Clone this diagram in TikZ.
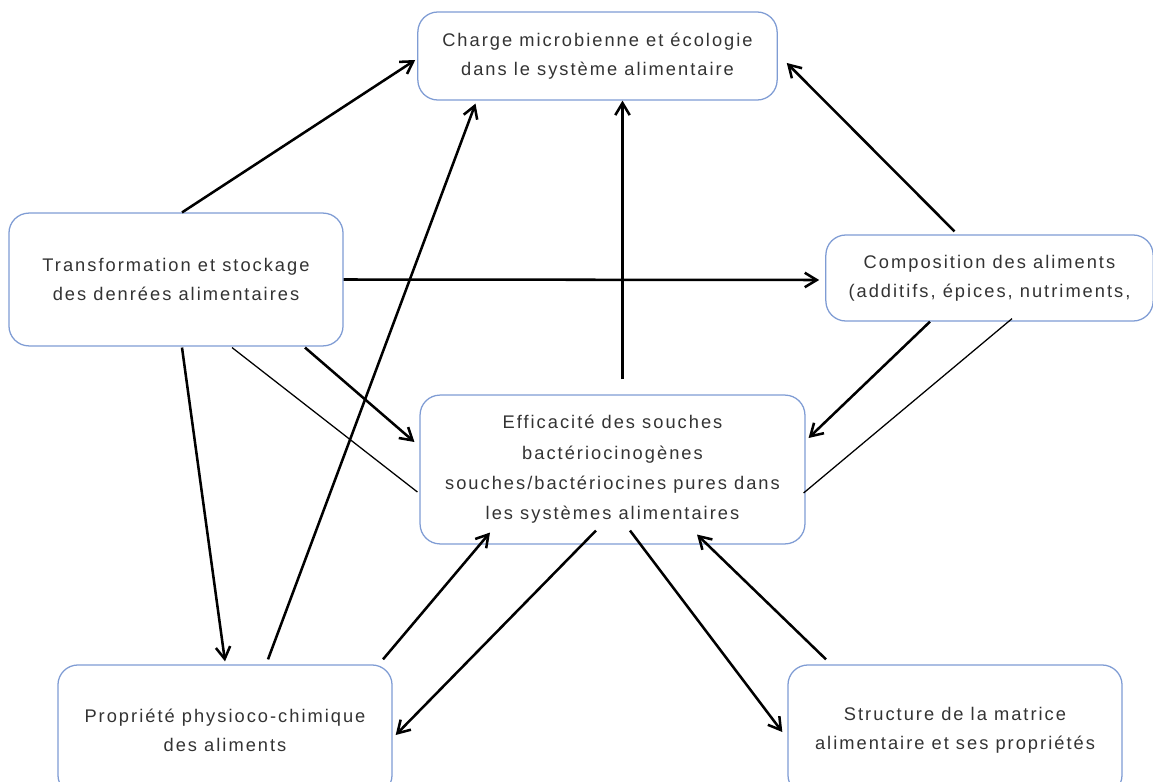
\documentclass[tikz,border=0pt]{standalone}
\usepackage{fontspec}
\setmainfont{Liberation Sans}[LetterSpace=11]
\usepackage{xcolor}
\usepackage{tikz}
\usetikzlibrary{arrows.meta,calc}
\definecolor{boxline}{HTML}{7F9CD4}
\definecolor{boxtext}{HTML}{333333}

\begin{document}
\begin{tikzpicture}[
    x=0.025cm, y=-0.025cm,
    box/.style={rectangle, draw=boxline, line width=0.9pt, rounded corners=0.5cm, fill=white, align=center, text=boxtext, font=\fontsize{13}{20.5}\selectfont, inner sep=0pt},
    arrow/.style={-{Straight Barb[length=3mm,width=3.6mm]}, line width=1.8pt},
    link/.style={line width=0.9pt}
]

\clip (0,0) rectangle (1153,782);

% Boxes
\node[box, minimum width=8.98cm, minimum height=2.2cm] (charge) at (597.5,56) {Charge microbienne et écologie\\dans le système alimentaire};
\node[box, minimum width=8.35cm, minimum height=3.32cm] (transf) at (176,279.5) {Transformation et stockage\\des denrées alimentaires};
\node[box, minimum width=8.18cm, minimum height=2.15cm] (compo) at (989.5,278) {Composition des aliments\\(additifs, épices, nutriments,};
\node[box, minimum width=9.62cm, minimum height=3.72cm, font=\fontsize{13}{21.5}\selectfont] (effic) at (612.5,469.5) {Efficacité des souches\\bactériocinogènes\\souches/bactériocines pures dans\\les systèmes alimentaires};
\node[box, minimum width=8.35cm, minimum height=3.25cm] (propr) at (225,730) {Propriété physioco-chimique\\des aliments};
\node[box, minimum width=8.35cm, minimum height=3.25cm] (struct) at (955,730) {Structure de la matrice\\alimentaire et ses propriétés};

% Arrows to the top box
\draw[arrow] ($(transf.north)+(6,0)$) -- ($(charge.west)+(-2,4)$);
\draw[arrow] ($(propr.north)+(43,-5)$) -- ($(charge.south)+(-122,3)$);
\draw[arrow] ($(effic.north)+(10,-15)$) -- ($(charge.south)+(25,0)$);
\draw[arrow] ($(compo.north)+(-35,-3)$) -- ($(charge.east)+(9,7)$);

% From the left box
\draw[arrow] (transf.east) -- ($(compo.west)+(-6,2)$);
\draw[arrow] ($(transf.south)+(6,1)$) -- ($(propr.north)+(0,-3)$);
\draw[arrow] ($(transf.south)+(129,1)$) -- ($(effic.west)+(-5,-27.5)$);
\draw[link] ($(transf.south)+(56,1)$) -- ($(effic.west)+(-2,22.5)$);

% From the right box
\draw[arrow] ($(compo.south)+(-59.5,0)$) -- ($(effic.east)+(3,-31.5)$);
\draw[link] ($(compo.south)+(22.5,-3)$) -- ($(effic.east)+(-2,23.5)$);

% Bottom boxes
\draw[arrow] ($(propr.north)+(158,-5)$) -- ($(effic.south)+(-122.5,-12)$);
\draw[arrow] ($(effic.south)+(-16.5,-14)$) -- ($(propr.east)+(3,5)$);
\draw[arrow] ($(effic.south)+(17.5,-14)$) -- ($(struct.west)+(-5,2)$);
\draw[arrow] ($(struct.north)+(-129,-5)$) -- ($(effic.south)+(84.5,-10)$);

\end{tikzpicture}
\end{document}
